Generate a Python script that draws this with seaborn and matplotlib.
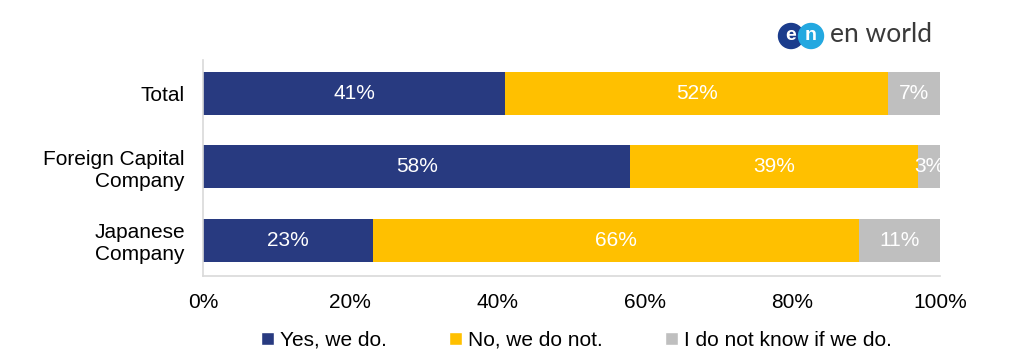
import matplotlib
matplotlib.use("Agg")
import matplotlib.pyplot as plt
from matplotlib.patches import Circle, Patch
import seaborn as sns
import pandas as pd
import numpy as np

categories = ["Total", "Foreign Capital\nCompany", "Japanese\nCompany"]
series_names = ["Yes, we do.", "No, we do not.", "I do not know if we do."]
yes_vals = [41, 58, 23]
no_vals = [52, 39, 66]
dunno_vals = [7, 3, 11]
x_ticks = [0, 20, 40, 60, 80, 100]
colors = ["#283A80", "#FFC000", "#BFBFBF"]

sns.set_style("white")
plt.rcParams["font.family"] = ["Liberation Sans", "DejaVu Sans"]
plt.rcParams["text.color"] = "black"
plt.rcParams["xtick.color"] = "black"
plt.rcParams["ytick.color"] = "black"

df = pd.DataFrame({"cat": categories, "yes": yes_vals, "no": no_vals, "dunno": dunno_vals})
df["c1"] = df["yes"]
df["c2"] = df["yes"] + df["no"]
df["c3"] = df["c2"] + df["dunno"]

fig = plt.figure(figsize=(10.22, 3.55), dpi=100)
ax = fig.add_axes([203 / 1022, 1 - 276 / 355, 737 / 1022, 216 / 355])

# stacked bars drawn back to front from cumulative sums
for col, color in zip(["c3", "c2", "c1"], colors[::-1]):
    sns.barplot(data=df, x=col, y="cat", orient="h", color=color,
                width=0.585, saturation=1, linewidth=0, ax=ax)

for i, row in df.iterrows():
    starts = [0, row["c1"], row["c2"]]
    for s, v in zip(starts, [row["yes"], row["no"], row["dunno"]]):
        ax.text(s + v / 2, i, f"{v}%", ha="center", va="center",
                color="white", fontsize=15)

ax.set_xlim(0, 100)
ax.set_ylim(2.49, -0.456)
ax.set_xticks(x_ticks)
ax.set_xticklabels([f"{t}%" for t in x_ticks], fontsize=15)
ax.tick_params(axis="x", pad=12, length=0)
ax.tick_params(axis="y", labelsize=15, length=0, pad=13)
ax.set_xlabel("")
ax.set_ylabel("")
for s in ["top", "right"]:
    ax.spines[s].set_visible(False)
for s in ["left", "bottom"]:
    ax.spines[s].set_color("#D9D9D9")
    ax.spines[s].set_linewidth(1.2)

handles = [Patch(facecolor=c, label=n) for c, n in zip(colors, series_names)]
fig.legend(handles=handles, loc="center", bbox_to_anchor=(0.564, 1 - 340 / 355),
           ncol=3, frameon=False, fontsize=15, handlelength=0.6,
           handleheight=0.6, handletextpad=0.3, columnspacing=3.0)

# logo
lax = fig.add_axes([0, 0, 1, 1], facecolor="none")
lax.set_xlim(0, 1022)
lax.set_ylim(355, 0)
lax.axis("off")
lax.set_aspect("equal")
lax.add_patch(Circle((791, 36), 12.5, color="#1B3C8C"))
lax.add_patch(Circle((811, 36), 12.5, color="#23A8E0"))
lax.text(791, 35, "e", color="white", fontsize=14, fontweight="bold", ha="center", va="center")
lax.text(811, 35, "n", color="white", fontsize=14, fontweight="bold", ha="center", va="center")
lax.text(830, 35, "en world", color="#3A3A3A", fontsize=19, ha="left", va="center",
         family=["Lato", "DejaVu Sans"])

fig.savefig("out.png", dpi=100)
